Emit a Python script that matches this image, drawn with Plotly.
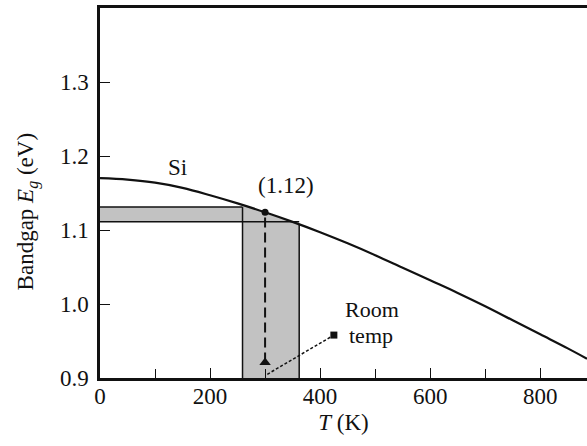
import plotly.graph_objects as go

# ---- data ----
T_curve = [0, 50, 100, 150, 200, 250, 300, 350, 400, 450, 500, 550, 600,
           650, 700, 750, 800, 850, 885]
Eg_curve = [1.170, 1.168, 1.164, 1.157, 1.147, 1.136, 1.124, 1.111, 1.097,
            1.082, 1.066, 1.049, 1.032, 1.015, 0.997, 0.978, 0.959, 0.940, 0.926]

T_band = [259, 362]          # vertical grey band edges (K)
Eg_band = [1.111, 1.131]     # horizontal grey band edges (eV)
Eg_at_band = [1.134, 1.108]  # curve value at the band edges
T_room = 300
Eg_room = 1.124
Eg_arrow_tip = 0.921
leader_T = [304, 425]
leader_E = [0.905, 0.958]

x_ticks = [0, 200, 400, 600, 800]
x_minor = [100, 300, 500, 700]
y_ticks = [0.9, 1.0, 1.1, 1.2, 1.3]
y_tick_labels = ["0.9", "1.0", "1.1", "1.2", "1.3"]

FONT = "Liberation Serif"
BLACK = "#111111"
GREY = "#c2c2c2"

fig = go.Figure()

# grey region (union of the two bands, bounded above by the curve)
poly_x = [0, 0, T_band[0], T_band[0], T_room, 350, T_band[1], T_band[1],
          T_band[0], T_band[0], 0]
poly_y = [Eg_band[0], Eg_band[1], Eg_band[1], Eg_at_band[0], Eg_room, 1.111,
          Eg_at_band[1], 0.9, 0.9, Eg_band[0], Eg_band[0]]
fig.add_trace(go.Scatter(x=poly_x, y=poly_y, mode="lines", fill="toself",
                         fillcolor=GREY, line=dict(width=0), hoverinfo="skip"))

# band outlines
line_style = dict(color=BLACK, width=1.5)
fig.add_trace(go.Scatter(x=[0, T_band[0]], y=[Eg_band[1], Eg_band[1]],
                         mode="lines", line=line_style))
fig.add_trace(go.Scatter(x=[0, T_band[1]], y=[Eg_band[0], Eg_band[0]],
                         mode="lines", line=line_style))
fig.add_trace(go.Scatter(x=[T_band[0], T_band[0]], y=[0.9, Eg_band[1]],
                         mode="lines", line=line_style))
fig.add_trace(go.Scatter(x=[T_band[1], T_band[1]], y=[0.9, Eg_at_band[1]],
                         mode="lines", line=line_style))

# Si curve
fig.add_trace(go.Scatter(x=T_curve, y=Eg_curve, mode="lines",
                         line=dict(color=BLACK, width=2.2, shape="spline")))

# dashed line from room temperature point, with arrow head at the bottom
fig.add_trace(go.Scatter(x=[T_room, T_room], y=[Eg_arrow_tip, Eg_room],
                         mode="lines",
                         line=dict(color=BLACK, width=2, dash="10px,5px")))
fig.add_trace(go.Scatter(x=[T_room], y=[Eg_arrow_tip], mode="markers",
                         marker=dict(color=BLACK, size=10,
                                     symbol="triangle-up")))
fig.add_trace(go.Scatter(x=[T_room], y=[Eg_room], mode="markers",
                         marker=dict(color=BLACK, size=7)))

# leader line for "Room temp"
fig.add_trace(go.Scatter(x=leader_T, y=leader_E, mode="lines",
                         line=dict(color=BLACK, width=1.5, dash="3px,2px")))
fig.add_trace(go.Scatter(x=[leader_T[1]], y=[leader_E[1]], mode="markers",
                         marker=dict(color=BLACK, size=7, symbol="square")))

annotations = [
    dict(x=141, y=1.185, text="Si", showarrow=False,
         font=dict(size=23, color=BLACK, family=FONT)),
    dict(x=338, y=1.1605, text="(1.12)", showarrow=False,
         font=dict(size=23, color=BLACK, family=FONT)),
    dict(x=494, y=0.993, text="Room", showarrow=False,
         font=dict(size=22, color=BLACK, family=FONT)),
    dict(x=493, y=0.958, text="temp", showarrow=False,
         font=dict(size=22, color=BLACK, family=FONT)),
    dict(xref="paper", yref="paper", x=-0.148, y=0.45,
         text="Bandgap <i>E</i><sub><i>g</i></sub> (eV)", textangle=-90,
         showarrow=False, xanchor="center", yanchor="middle",
         font=dict(size=23, color=BLACK, family=FONT)),
]

fig.update_layout(
    width=587, height=446,
    margin=dict(l=100, r=0, t=8, b=68),
    paper_bgcolor="white", plot_bgcolor="white",
    showlegend=False,
    annotations=annotations,
    font=dict(family=FONT, size=22, color=BLACK),
)
fig.update_xaxes(range=[0, 885], tickvals=x_ticks, ticks="inside", ticklen=10,
                 tickwidth=1.2, tickcolor=BLACK, showgrid=False, zeroline=False,
                 showline=True, linecolor=BLACK, linewidth=2.5, mirror=True,
                 ticklabelstandoff=-4,
                 title=dict(text="<i>T</i> (K)", standoff=6,
                            font=dict(size=23, family=FONT, color=BLACK)),
                 tickfont=dict(size=23, family=FONT, color=BLACK),
                 minor=dict(tickvals=x_minor, ticks="inside",
                            ticklen=9, tickwidth=1.2, tickcolor=BLACK))
fig.update_yaxes(range=[0.9, 1.4], tickvals=y_ticks, ticktext=y_tick_labels,
                 ticks="inside", ticklen=10, tickwidth=1.2, tickcolor=BLACK,
                 showgrid=False, zeroline=False, showline=True,
                 linecolor=BLACK, linewidth=2.5, mirror=False,
                 ticklabelstandoff=4,
                 tickfont=dict(size=23, family=FONT, color=BLACK))

fig.write_html("out.html", config={"displayModeBar": False},
               post_script="document.body.style.margin='0';"
                           "document.body.style.overflow='hidden';")
